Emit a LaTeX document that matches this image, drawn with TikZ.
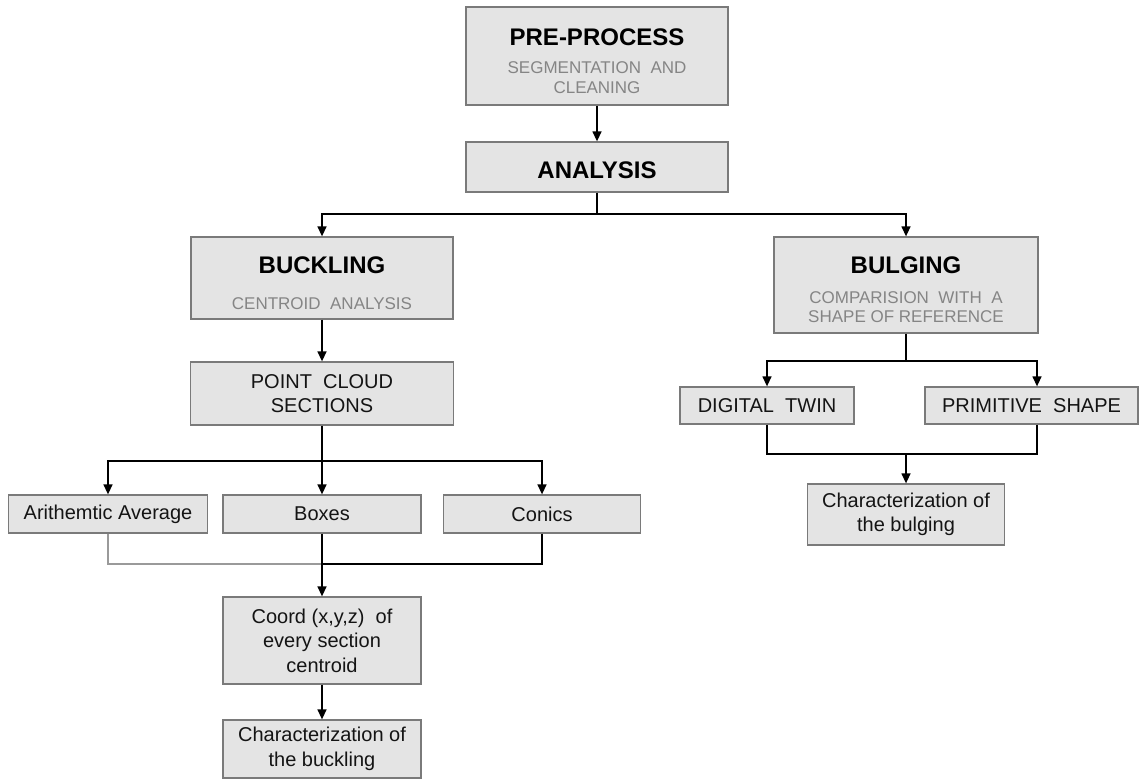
\documentclass[tikz,border=0pt]{standalone}
\usepackage{fontspec}
\setmainfont{Liberation Sans}
\usetikzlibrary{arrows.meta}
\definecolor{boxfill}{HTML}{E4E4E4}
\definecolor{boxline}{HTML}{7A7A7A}
\definecolor{subgray}{HTML}{858585}
\definecolor{txt}{HTML}{141414}
\definecolor{lightln}{HTML}{9A9A9A}
\newcommand{\ttlf}{\fontsize{24}{29}\selectfont\bfseries\color{black}}
\newcommand{\subf}{\fontsize{17}{19.5}\selectfont\color{subgray}}
\newcommand{\lift}[1]{\rule{0pt}{#1}}
\begin{document}
\begin{tikzpicture}[x=1pt,y=-1pt,
  bx/.style={draw=boxline, fill=boxfill, line width=1.3pt, inner sep=0pt, align=center, text=txt, font=\fontsize{20}{24.5}\selectfont},
  tbx/.style={bx, font=\fontsize{17}{19.5}\selectfont},
  ln/.style={draw=black, line width=1.4pt},
  lng/.style={draw=lightln, line width=1.4pt},
  arr/.style={ln, -{Triangle[length=10pt,width=9pt]}}]
\useasboundingbox[fill=white] (0,0) rectangle (1142,782);

\node[tbx, minimum width=262pt, minimum height=98pt] (pre) at (597,56)
  {{\ttlf\lift{27pt}PRE-PROCESS}\\[9pt]{\subf SEGMENTATION\ \ AND}\\{\subf CLEANING}};
\node[bx, minimum width=262pt, minimum height=50pt] (ana) at (597,167)
  {{\ttlf\lift{23pt}ANALYSIS}};
\node[tbx, minimum width=262pt, minimum height=82pt] (buck) at (322,278)
  {{\ttlf\lift{27pt}BUCKLING}\\[16pt]{\subf CENTROID\ \ ANALYSIS}};
\node[tbx, minimum width=264pt, minimum height=96pt] (bulg) at (906,285)
  {{\ttlf\lift{27pt}BULGING}\\[10pt]{\subf COMPARISION\ \ WITH\ \ A}\\{\subf SHAPE OF REFERENCE}};
\node[bx, minimum width=263pt, minimum height=63pt] (pcs) at (322,393.5)
  {POINT\ \ CLOUD\\SECTIONS};
\node[bx, minimum width=199pt, minimum height=38pt] (arith) at (108,514)
  {Arithemtic Average};
\node[bx, minimum width=198pt, minimum height=38pt] (boxes) at (322,514)
  {Boxes};
\node[bx, minimum width=197pt, minimum height=38pt] (conics) at (542,514)
  {Conics};
\node[bx, minimum width=198pt, minimum height=87pt] (coord) at (322,640.5)
  {Coord (x,y,z)\ \ of\\every section\\centroid};
\node[bx, minimum width=198pt, minimum height=58pt] (cbuck) at (322,749)
  {Characterization of\\the buckling};
\node[bx, minimum width=174pt, minimum height=37pt] (dt) at (767,405.5)
  {DIGITAL\ \ TWIN};
\node[bx, minimum width=213pt, minimum height=37pt] (ps) at (1031.5,405.5)
  {PRIMITIVE\ \ SHAPE};
\node[bx, minimum width=197pt, minimum height=61pt] (cbulg) at (906,514.5)
  {Characterization of\\the bulging};

\coordinate (j1) at (597,214);
\coordinate (j2) at (322,461);
\coordinate (j3) at (322,564);
\coordinate (j4) at (906,361);
\coordinate (j5) at (906,454);
\coordinate (psin) at ([xshift=5.5pt]ps.north);
\coordinate (psout) at ([xshift=5.5pt]ps.south);

\draw[arr] (pre.south) -- (ana.north);
\draw[ln] (ana.south) -- (j1);
\draw[arr] (j1) -| (buck.north);
\draw[arr] (j1) -| (bulg.north);
\draw[arr] (buck.south) -- (pcs.north);
\draw[ln] (pcs.south) -- (j2);
\draw[arr] (j2) -| (arith.north);
\draw[arr] (j2) -- (boxes.north);
\draw[arr] (j2) -| (conics.north);
\draw[lng] (arith.south) |- (j3);
\draw[ln] (conics.south) |- (j3);
\draw[ln] (boxes.south) -- (j3);
\draw[arr] (j3) -- (coord.north);
\draw[arr] (coord.south) -- (cbuck.north);
\draw[ln] (bulg.south) -- (j4);
\draw[arr] (j4) -| (dt.north);
\draw[arr] (j4) -| (psin);
\draw[ln] (dt.south) |- (j5);
\draw[ln] (psout) |- (j5);
\draw[arr] (j5) -- (cbulg.north);
\end{tikzpicture}
\end{document}
